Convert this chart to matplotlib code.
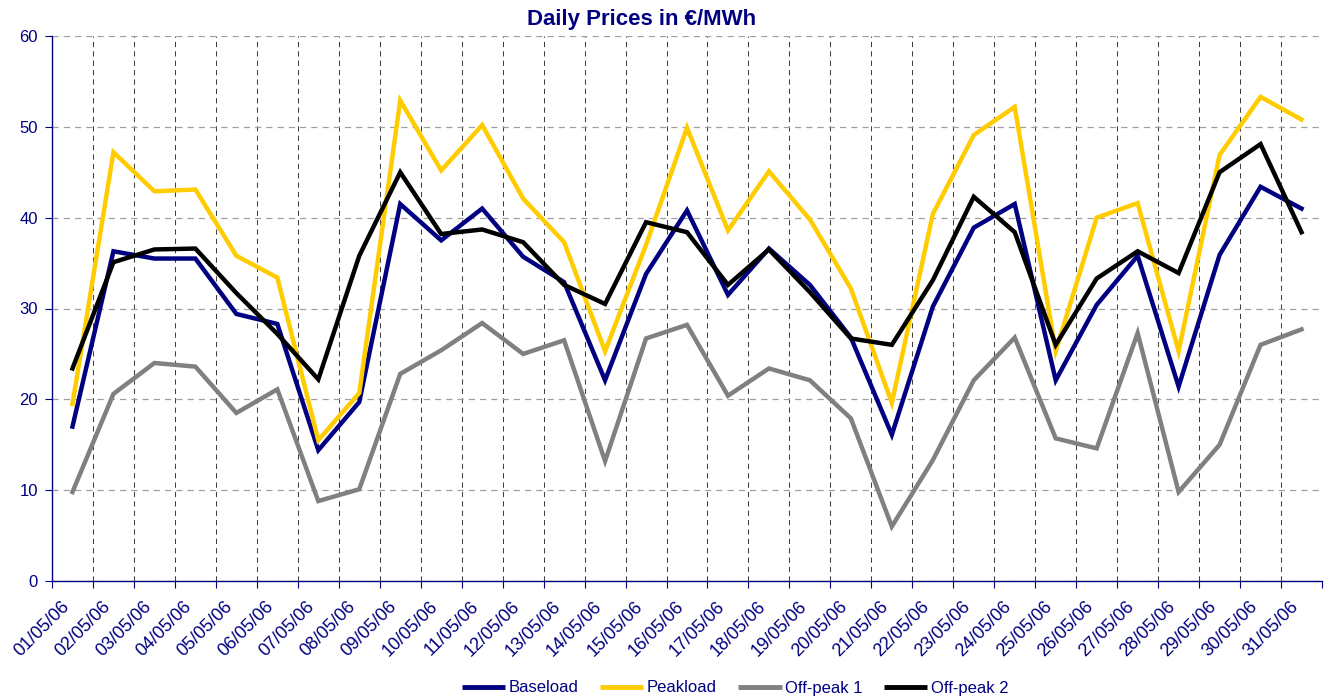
import numpy as np
import matplotlib.pyplot as plt
import matplotlib.transforms as mtransforms

# Datos: precios diarios mayo 2006 (EUR/MWh)
dates = [f"{d:02d}/05/06" for d in range(1, 32)]

baseload = [17.0, 36.3, 35.5, 35.5, 29.4, 28.3, 14.4, 19.7, 41.5, 37.5,
            41.0, 35.7, 32.9, 22.1, 33.8, 40.8, 31.5, 36.6, 32.6, 26.8,
            16.1, 30.2, 38.9, 41.5, 22.1, 30.4, 35.8, 21.4, 35.9, 43.4, 41.0]

peakload = [19.5, 47.2, 42.9, 43.1, 35.8, 33.4, 15.5, 20.7, 52.9, 45.2,
            50.2, 42.1, 37.3, 25.3, 37.0, 49.9, 38.6, 45.1, 39.8, 32.2,
            19.6, 40.4, 49.1, 52.2, 25.3, 40.0, 41.6, 25.3, 46.9, 53.3, 50.8]

offpeak1 = [9.8, 20.6, 24.0, 23.6, 18.5, 21.1, 8.8, 10.1, 22.8, 25.4,
            28.4, 25.0, 26.5, 13.2, 26.7, 28.2, 20.4, 23.4, 22.1, 17.9,
            6.0, 13.3, 22.1, 26.8, 15.7, 14.6, 27.3, 9.8, 15.0, 26.0, 27.7]

offpeak2 = [23.4, 35.1, 36.5, 36.6, 31.7, 27.2, 22.2, 35.8, 45.0, 38.2,
            38.7, 37.3, 32.6, 30.5, 39.5, 38.4, 32.6, 36.5, 31.8, 26.7,
            26.0, 33.1, 42.3, 38.4, 26.0, 33.3, 36.3, 33.9, 45.0, 48.1, 38.4]

series_names = ["Baseload", "Peakload", "Off-peak 1", "Off-peak 2"]
series_colors = ["#000080", "#FFCC00", "#808080", "#000000"]

NAVY = "#000080"
plt.rcParams['font.family'] = ['Liberation Sans', 'DejaVu Sans']

fig = plt.figure(figsize=(13.24, 6.98), dpi=100)
ax = fig.add_axes([52 / 1324, 117 / 698, 1270 / 1324, 545 / 698])

x = np.arange(len(dates))
for vals, name, col in zip([baseload, peakload, offpeak1, offpeak2],
                           series_names, series_colors):
    ax.plot(x, vals, color=col, lw=3.2, label=name, solid_joinstyle='miter')

# ejes
ax.set_xlim(-0.5, len(dates) - 0.5)
ax.set_ylim(0, 60)
ax.set_yticks(range(0, 61, 10))
ax.set_xticks(x)
ax.set_xticklabels(dates, rotation=45, ha='right', rotation_mode='anchor')
ax.set_xticks(np.arange(-0.5, len(dates), 1.0), minor=True)

ax.tick_params(axis='x', which='major', length=0, pad=12, labelsize=13,
               labelcolor=NAVY)
ax.tick_params(axis='x', which='minor', length=5, width=0.8, color=NAVY,
               direction='out')
ax.tick_params(axis='y', length=5, width=0.8, color=NAVY, labelcolor=NAVY,
               labelsize=12, pad=5)

# desplazar etiquetas hacia la izquierda (como en Excel)
shift = mtransforms.ScaledTranslation(-12 / 100, 0, fig.dpi_scale_trans)
for lbl in ax.get_xticklabels():
    lbl.set_transform(lbl.get_transform() + shift)

# rejilla
ax.grid(False)
ax.grid(True, axis='x', which='minor', color='#404040', lw=0.75,
        linestyle=(0, (5, 4)))
ax.grid(True, axis='y', which='major', color='#a0a0a0', lw=0.9,
        linestyle=(0, (5, 4)))
ax.set_axisbelow(True)

for s in ['top', 'right']:
    ax.spines[s].set_visible(False)
for s in ['left', 'bottom']:
    ax.spines[s].set_color(NAVY)
    ax.spines[s].set_linewidth(1)

fig.text(642 / 1324, 1 - 19 / 698, "Daily Prices in €/MWh", ha='center',
         va='center', fontsize=16, fontweight='bold', color=NAVY)

leg = fig.legend(loc='center', bbox_to_anchor=(735 / 1324, 1 - 688 / 698),
                 ncol=4, frameon=False, fontsize=12, handlelength=2.6,
                 handletextpad=0.2, columnspacing=1.3, borderaxespad=0)
for t in leg.get_texts():
    t.set_color(NAVY)
for h in leg.get_lines():
    h.set_linewidth(3.5)
    h.set_solid_capstyle('butt')

fig.savefig("out.png", dpi=100)
